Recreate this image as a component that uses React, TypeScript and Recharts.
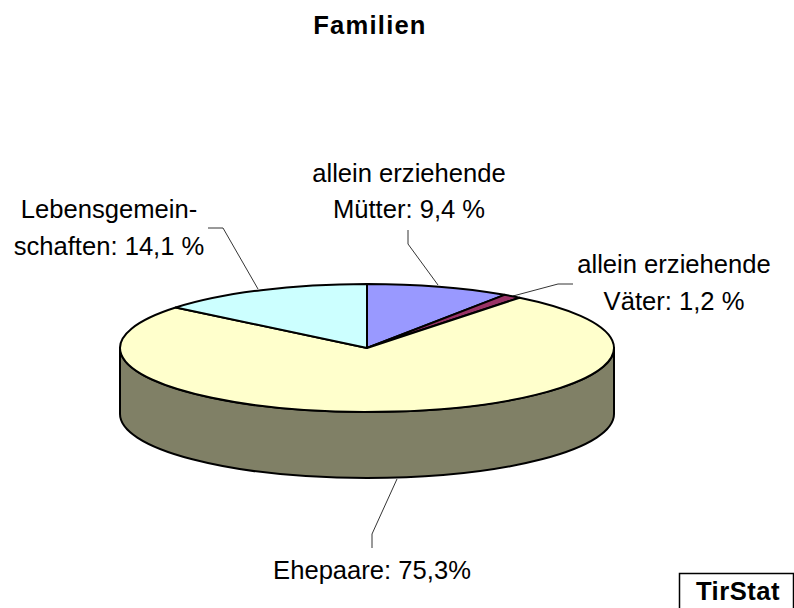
import React from "react";
import { PieChart, Pie, Cell } from "recharts";

const categories = ["allein erziehende Mütter", "allein erziehende Väter", "Ehepaare", "Lebensgemeinschaften"];
const shares = [9.4, 1.2, 75.3, 14.1];
const sliceColors = ["#9999FF", "#993366", "#FFFFCC", "#CCFFFF"];
const labelLines = [
  ["allein erziehende", "Mütter: 9,4 %"],
  ["allein erziehende", "Väter: 1,2 %"],
  ["Ehepaare: 75,3%"],
  ["Lebensgemein-", "schaften: 14,1 %"],
];

const data = categories.map((name, i) => ({ name, value: shares[i] }));

// label placement, worked out by eye against the picture
const labelCenters = [
  { x: 409, y: 181.5 },
  { x: 674, y: 273 },
  { x: 372, y: 579 },
  { x: 109, y: 218 },
];
const leaders = [
  "408,230 408,244 438,285",
  "513,296 558,284 573,284",
  "397,479 372,534 372,548",
  "208,228 223,228 258,289",
];

const FONT = "'Liberation Sans', Arial, sans-serif";
const SQUASH = 64 / 247;
const DEPTH = 66;
const WALL = "#808066";

const RAD = Math.PI / 180;

// flat pie sector -> tilted one, with the rim for whatever lies on the front half
const TiltedSector = (props: any) => {
  const { cx, cy, outerRadius, startAngle, endAngle, fill } = props;
  const rx = outerRadius;
  const ry = outerRadius * SQUASH;
  const px = (a: number) => cx + rx * Math.cos(a * RAD);
  const py = (a: number) => cy - ry * Math.sin(a * RAD);
  const large = Math.abs(startAngle - endAngle) > 180 ? 1 : 0;

  const top = `M${cx},${cy} L${px(startAngle)},${py(startAngle)} A${rx},${ry} 0 ${large} 1 ${px(endAngle)},${py(endAngle)} Z`;

  const s = Math.min(startAngle, 0);
  const e = Math.max(endAngle, -180);
  const wall =
    s > e
      ? `M${px(s)},${py(s)} A${rx},${ry} 0 0 1 ${px(e)},${py(e)} L${px(e)},${py(e) + DEPTH} A${rx},${ry} 0 0 0 ${px(s)},${py(s) + DEPTH} Z`
      : null;

  return (
    <g>
      {wall && <path d={wall} fill={WALL} stroke="#000" strokeWidth={2} strokeLinejoin="round" />}
      <path d={top} fill={fill} stroke="#000" strokeWidth={2} strokeLinejoin="round" />
    </g>
  );
};

const SliceLabel = (props: any) => {
  const i = props.index;
  const c = labelCenters[i];
  return (
    <g>
      <polyline points={leaders[i]} fill="none" stroke="#000" strokeWidth={0.8} />
      <text x={c.x} y={c.y} textAnchor="middle" fontFamily={FONT} fontSize={25.6} fill="#000">
        {labelLines[i].map((line, k) => (
          <tspan key={k} x={c.x} dy={k === 0 ? 0 : 36.5}>
            {line}
          </tspan>
        ))}
      </text>
    </g>
  );
};

export default function App() {
  return (
    <div style={{ position: "absolute", left: 0, top: 0, width: 794, height: 608, background: "#fff" }}>
      <PieChart width={794} height={608} margin={{ top: 0, right: 0, bottom: 0, left: 0 }}>
        <text x={370} y={34} textAnchor="middle" fontFamily={FONT} fontSize={25.6} fontWeight="bold" letterSpacing={1.2} fill="#000">
          Familien
        </text>
        <Pie
          data={data}
          dataKey="value"
          nameKey="name"
          cx={367}
          cy={348}
          innerRadius={0}
          outerRadius={247}
          startAngle={90}
          endAngle={-270}
          paddingAngle={0}
          shape={TiltedSector}
          label={SliceLabel}
          labelLine={false}
          isAnimationActive={false}
        >
          {data.map((d, i) => (
            <Cell key={d.name} fill={sliceColors[i]} />
          ))}
        </Pie>
        <rect x={679.5} y={573.5} width={114} height={40} fill="#fff" stroke="#000" strokeWidth={1.5} />
        <text x={738} y={600} textAnchor="middle" fontFamily={FONT} fontSize={25.6} fontWeight="bold" letterSpacing={0.5} fill="#000">
          TirStat
        </text>
      </PieChart>
    </div>
  );
}
